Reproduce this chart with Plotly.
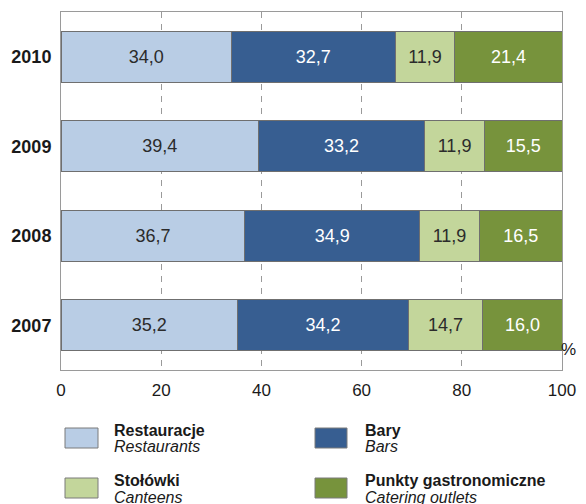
import plotly.graph_objects as go

years = ["2007", "2008", "2009", "2010"]
restauracje = [35.2, 36.7, 39.4, 34.0]
bary = [34.2, 34.9, 33.2, 32.7]
stolowki = [14.7, 11.9, 11.9, 11.9]
punkty = [16.0, 16.5, 15.5, 21.4]

series_pl = ["Restauracje", "Bary", "Stołówki", "Punkty gastronomiczne"]
series_en = ["Restaurants", "Bars", "Canteens", "Catering outlets"]
colors = ["#B9CDE5", "#375E91", "#C3D69B", "#77933C"]
text_colors = ["#2b2b2b", "#ffffff", "#2b2b2b", "#ffffff"]
x_ticks = [0, 20, 40, 60, 80, 100]

FONT = "Liberation Sans, Arial, sans-serif"

fig = go.Figure()
for name, vals, col, tcol in zip(series_pl, [restauracje, bary, stolowki, punkty], colors, text_colors):
    fig.add_trace(go.Bar(
        y=years, x=vals, orientation="h", name=name,
        marker=dict(color=col, line=dict(color="#6f6f6f", width=1)),
        text=[f"{v:.1f}".replace(".", ",") for v in vals],
        textposition="inside", insidetextanchor="middle", textangle=0,
        insidetextfont=dict(family=FONT, size=18, color=tcol),
        showlegend=False, hoverinfo="skip",
    ))

L, R, T, B = 61, 24, 12, 134
W, H = 586, 504
pw, ph = W - L - R, H - T - B

def px(x):
    return (x - L) / pw

def py(y):
    return (H - B - y) / ph

fig.update_layout(
    width=W, height=H, barmode="stack", bargap=0.43,
    margin=dict(l=L, r=R, t=T, b=B, autoexpand=False),
    paper_bgcolor="white", plot_bgcolor="white",
    font=dict(family=FONT, color="#1a1a1a"),
    uniformtext=dict(minsize=10, mode="show"),
)
fig.update_xaxes(
    range=[0, 100], tickvals=x_ticks, ticktext=[str(t) for t in x_ticks],
    showgrid=True, gridcolor="#9a9a9a", gridwidth=1, griddash="6px,6px",
    showline=True, mirror=True, linecolor="#9a9a9a", linewidth=1,
    zeroline=False, ticks="", tickfont=dict(family=FONT, size=17, color="#1a1a1a"),
    ticklabelstandoff=5, fixedrange=True,
)
fig.update_yaxes(
    type="category", categoryorder="array", categoryarray=years,
    showgrid=False, showline=True, mirror=True, linecolor="#9a9a9a", linewidth=1,
    ticks="", tickfont=dict(family=FONT, size=18, color="#1a1a1a", weight="bold"),
    ticklabelstandoff=5, fixedrange=True,
)

fig.add_annotation(x=px(578), y=py(361), xref="paper", yref="paper", text="%",
                   showarrow=False, font=dict(family=FONT, size=17, color="#1a1a1a"))

# legend (2 x 2)
cols_x = [(65, 98, 112), (315, 347, 363)]
rows_y = [(428, 448, 430, 446), (478, 498, 480, 497)]
for i in range(4):
    r, c = divmod(i, 2)
    x0, x1, tx = cols_x[c]
    y0, y1, ty1, ty2 = rows_y[r]
    fig.add_shape(type="rect", xref="paper", yref="paper",
                  x0=px(x0), x1=px(x1), y0=py(y1), y1=py(y0),
                  fillcolor=colors[i], line=dict(color="#7a7a7a", width=1))
    fig.add_annotation(x=px(tx), y=py(ty1), xref="paper", yref="paper",
                       xanchor="left", yanchor="middle", showarrow=False,
                       text=f"<b>{series_pl[i]}</b>",
                       font=dict(family=FONT, size=16, color="#1a1a1a"))
    fig.add_annotation(x=px(tx), y=py(ty2), xref="paper", yref="paper",
                       xanchor="left", yanchor="middle", showarrow=False,
                       text=f"<i>{series_en[i]}</i>",
                       font=dict(family=FONT, size=16, color="#1a1a1a"))

fig.write_html(
    "out.html",
    config={"displayModeBar": False},
    post_script="document.body.style.margin='0';document.body.style.overflow='hidden';",
)
